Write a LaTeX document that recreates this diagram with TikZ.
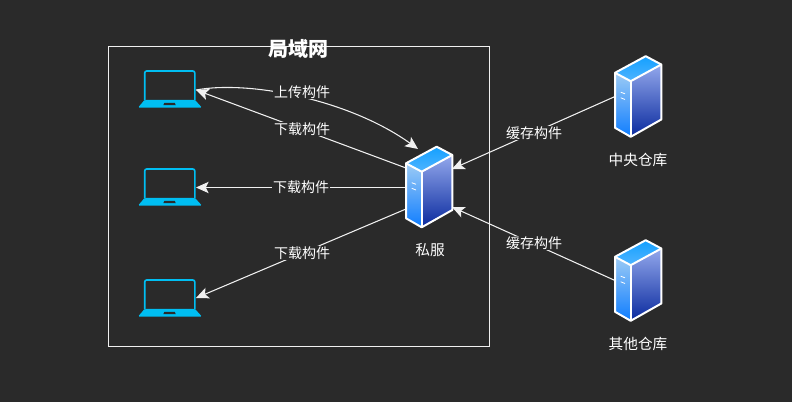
\documentclass[tikz,border=0pt]{standalone}
\usepackage{fontspec}
\setmainfont{Noto Sans CJK SC}
\usetikzlibrary{arrows.meta,shadings}
\definecolor{bgc}{HTML}{2A2A2A}
\definecolor{linec}{HTML}{F0F0F0}
\definecolor{lapc}{HTML}{00BEF2}
\definecolor{srvA}{HTML}{9CCBF5}
\definecolor{srvB}{HTML}{0F7DFF}
\definecolor{srvC}{HTML}{93A8EC}
\definecolor{srvD}{HTML}{0A2A9E}
\definecolor{srvE}{HTML}{14A0FF}
\definecolor{srvF}{HTML}{4FB4FF}
\tikzset{
  conn/.style={draw=linec,line width=0.8pt,-{Stealth[length=9.5pt,width=8.5pt,inset=2.2pt]}},
  lbl/.style={fill=bgc,text=white,inner sep=0.5pt,font=\fontsize{10.5pt}{12pt}\selectfont},
  captext/.style={text=white,inner sep=0pt,font=\fontsize{11pt}{13pt}\selectfont},
  lapbox/.style={minimum width=43.5pt,minimum height=28.5pt,inner sep=0pt,outer sep=0pt},
  srvbox/.style={minimum width=34.5pt,minimum height=60pt,inner sep=0pt,outer sep=0pt},
  srvline/.style={draw=white,line width=1.5pt,line join=round}
}
\newcommand{\lapshape}[1]{%
  \begin{scope}[shift={(#1.center)}]
    \draw[lapc,line width=1.2pt,rounded corners=1.5pt] (-22.3,10.7) -- (-22.3,-19) -- (27.8,-19) -- (27.8,10.7);
    \fill[lapc,rounded corners=1pt] (-22.5,10) -- (28,10) -- (35,17.7) -- (-29,17.7) -- cycle;
    \fill[bgc] (-3.7,15.2) -- (-2.7,13) -- (7.8,13) -- (8.8,15.2) -- cycle;
  \end{scope}}
\newcommand{\srvshape}[1]{%
  \begin{scope}[shift={(#1.center)}]
    \shade[top color=srvA,bottom color=srvB] (-23,-23.7) -- (-7.3,-15.3) -- (-7.3,40.3) -- (-23,31.3) -- cycle;
    \shade[top color=srvC,bottom color=srvD] (-7.3,-15.3) -- (23.3,-32) -- (23.3,23) -- (-7.3,40.3) -- cycle;
    \shade[top color=srvE,bottom color=srvF] (-23,-23.7) -- (7.7,-40.3) -- (23.3,-32) -- (-7.3,-15.3) -- cycle;
    \draw[srvline] (-23,-23.7) -- (7.7,-40.3) -- (23.3,-32) -- (23.3,23) -- (-7.3,40.3) -- (-23,31.3) -- cycle;
    \draw[srvline] (-23,-23.7) -- (-7.3,-15.3) -- (23.3,-32);
    \draw[srvline] (-7.3,-15.3) -- (-7.3,40.3);
    \draw[white,line width=0.6pt] (-17.3,-4.3) -- (-13,-2.7) (-17.3,1.3) -- (-13,3);
  \end{scope}}
\begin{document}
\begin{tikzpicture}[x=0.75pt,y=-0.75pt]
  \useasboundingbox (0,0) rectangle (792,402);
  \fill[bgc] (0,0) rectangle (792,402);
  \node[draw=linec,line width=0.85pt,minimum width=286pt,minimum height=225.4pt,inner sep=0pt,outer sep=0pt] (lan) at (299.25,196.5) {};
  \node[text=white,inner sep=0pt,font=\fontsize{15pt}{18pt}\selectfont\bfseries] (title) at (298,49) {局域网};

  \node[lapbox] (lap1) at (167,90) {};
  \node[lapbox] (lap2) at (167,188) {};
  \node[lapbox] (lap3) at (167,299) {};
  \node[srvbox] (priv) at (429,187) {};
  \node[srvbox] (central) at (638,96.5) {};
  \node[srvbox] (other) at (638,280.5) {};

  \draw[conn] (lap1.east) .. controls (250,80) and (350,100) .. ([xshift=-8.25pt,yshift=-1.5pt]priv.north);
  \draw[conn] ([yshift=14.25pt]priv.west) -- (lap1.east);
  \draw[conn] ([yshift=-0.375pt]priv.west) -- ([yshift=0.375pt]lap2.east);
  \draw[conn] ([yshift=-16.5pt]priv.west) -- ([yshift=0.75pt]lap3.east);
  \draw[conn] (central.west) -- ([yshift=13.5pt]priv.east);
  \draw[conn] (other.west) -- ([yshift=-15pt]priv.east);

  \node[lbl] (l1) at (302,92) {上传构件};
  \node[lbl] (l2) at (302,129) {下载构件};
  \node[lbl] (l3) at (301,187) {下载构件};
  \node[lbl] (l4) at (302,253) {下载构件};
  \node[lbl] (l5) at (534,133) {缓存构件};
  \node[lbl] (l6) at (534,243) {缓存构件};

  \lapshape{lap1}
  \lapshape{lap2}
  \lapshape{lap3}
  \srvshape{priv}
  \srvshape{central}
  \srvshape{other}

  \node[captext] (c1) at (430,250) {私服};
  \node[captext] (c2) at (638,160) {中央仓库};
  \node[captext] (c3) at (638,344) {其他仓库};
\end{tikzpicture}
\end{document}
